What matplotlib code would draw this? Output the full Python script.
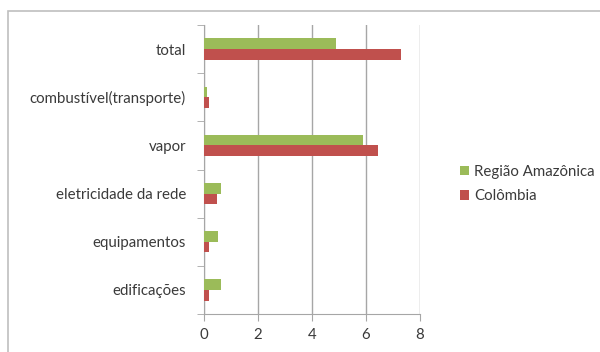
import numpy as np
import matplotlib.pyplot as plt
from matplotlib.patches import Rectangle

plt.rcParams['font.family'] = ['Lato', 'DejaVu Sans']

# categorias de baixo para cima
categorias = ['edificações', 'equipamentos', 'eletricidade da rede', 'vapor',
              'combustível(transporte)', 'total']
amazonia = [0.64, 0.50, 0.64, 5.90, 0.10, 4.90]
colombia = [0.17, 0.17, 0.47, 6.44, 0.17, 7.29]
xticks = [0, 2, 4, 6, 8]

verde = '#9bbb59'
vermelho = '#c0504d'
cinza = '#a6a6a6'
texto = '#3a3a3a'
fs = 10.8

fig = plt.figure(figsize=(6, 3.52), dpi=100)
ax = fig.add_axes([204 / 600, 1 - 314 / 352, 216 / 600, 289 / 352])

# moldura externa da figura
fig.patches.append(Rectangle((8 / 600, -0.05), 1.0, 1 - 11 / 352 + 0.05,
                             transform=fig.transFigure, fill=False,
                             edgecolor='#bfbfbf', linewidth=1.2))

y = np.arange(len(categorias))
h = 0.22
ax.barh(y + h / 2, amazonia, height=h, color=verde, label='Região Amazônica', zorder=3)
ax.barh(y - h / 2, colombia, height=h, color=vermelho, label='Colômbia', zorder=3)

ax.set_xlim(0, 8)
ax.set_ylim(-0.5, len(categorias) - 0.5)
ax.set_xticks(xticks)
ax.set_xticklabels([str(t) for t in xticks])
ax.set_yticks(y)
ax.set_yticklabels(categorias)
ax.set_yticks(np.arange(-0.5, len(categorias), 1), minor=True)

ax.xaxis.grid(True, color=cinza, linewidth=1, zorder=0)
ax.tick_params(axis='y', which='major', length=0, pad=13, labelsize=fs, labelcolor=texto)
ax.tick_params(axis='y', which='minor', length=5, color=cinza, direction='out')
ax.tick_params(axis='x', which='major', length=5, color=cinza, direction='out',
               labelsize=fs, labelcolor=texto, pad=5)

for s in ['top', 'right']:
    ax.spines[s].set_visible(False)
for s in ['left', 'bottom']:
    ax.spines[s].set_color(cinza)

leg = fig.legend(loc='center left', bbox_to_anchor=(446 / 600, 1 - 184 / 352),
                 frameon=False, fontsize=fs, handlelength=0.6, handleheight=0.6,
                 handletextpad=0.4, labelspacing=0.7)
for t in leg.get_texts():
    t.set_color(texto)

fig.savefig('out.png', dpi=100)
